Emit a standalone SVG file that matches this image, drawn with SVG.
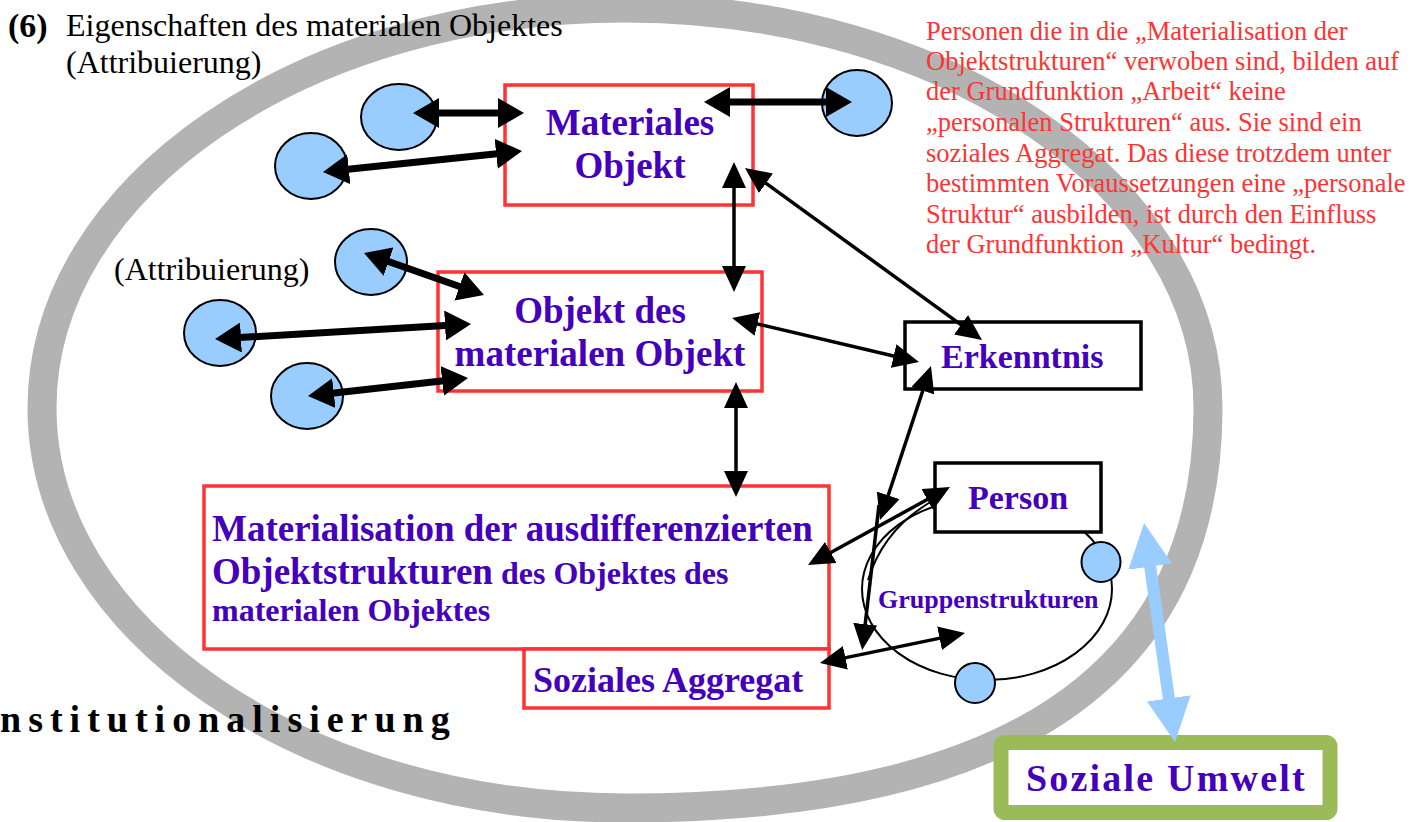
<svg xmlns="http://www.w3.org/2000/svg" width="1414" height="822" viewBox="0 0 1414 822">
<defs>
<style>
.serif{font-family:"Liberation Serif","Times New Roman",serif}
.pb{font-family:"Liberation Serif","Times New Roman",serif;font-weight:bold;fill:#4400bb}
.red{font-family:"Liberation Serif","Times New Roman",serif;fill:#ff3333;font-size:26.5px}
.rbox{fill:#fff;stroke:#ff3333;stroke-width:3.5}
.kbox{fill:#fff;stroke:#000;stroke-width:3.5}
.dot{fill:#99ccff;stroke:#000;stroke-width:2}
.thick{stroke:#000;stroke-width:7;fill:none;marker-start:url(#hk);marker-end:url(#hk)}
.thin{stroke:#000;stroke-width:3.5;fill:none;marker-start:url(#hn);marker-end:url(#hn)}
</style>
<marker id="hk" markerUnits="userSpaceOnUse" markerWidth="26" markerHeight="30" refX="13" refY="15" orient="auto-start-reverse" viewBox="0 0 26 30"><path d="M0,0 L26,15 L0,30 z" fill="#000"/></marker>
<marker id="hn" markerUnits="userSpaceOnUse" markerWidth="26" markerHeight="24" refX="13" refY="12" orient="auto-start-reverse" viewBox="0 0 26 24"><path d="M0,0 L26,12 L0,24 z" fill="#000"/></marker>
<marker id="hb" markerUnits="userSpaceOnUse" markerWidth="44" markerHeight="44" refX="22" refY="22" orient="auto-start-reverse" viewBox="0 0 44 44"><path d="M0,0 L44,22 L0,44 z" fill="#99ccff"/></marker>
</defs>
<rect width="1414" height="822" fill="#fff"/>

<g id="institution">
<path d="M1208,408 C1208,682 1000,808 625,808 C303,808 42,629 42,408 C42,187 303,8 625,8 C947,8 1208,187 1208,408 Z" fill="none" stroke="#b3b3b3" stroke-width="29"/>
<text x="0" y="732" class="serif" font-weight="bold" font-size="38" letter-spacing="7" fill="#000">nstitutionalisierung</text>
</g>

<g id="title">
<text x="8" y="37" class="serif" font-weight="bold" font-size="34" fill="#000">(6)</text>
<text x="66" y="36" class="serif" font-size="32" fill="#000">Eigenschaften des materialen Objektes</text>
<text x="66" y="73" class="serif" font-size="32" fill="#000">(Attribuierung)</text>
</g>

<g id="note">
<text class="red" x="926" y="40">Personen die in die „Materialisation der</text>
<text class="red" x="926" y="70">Objektstrukturen“ verwoben sind, bilden auf</text>
<text class="red" x="926" y="100">der Grundfunktion „Arbeit“ keine</text>
<text class="red" x="926" y="131">„personalen Strukturen“ aus. Sie sind ein</text>
<text class="red" x="926" y="162">soziales Aggregat. Das diese trotzdem unter</text>
<text class="red" x="926" y="192">bestimmten Voraussetzungen eine „personale</text>
<text class="red" x="926" y="223">Struktur“ ausbilden, ist durch den Einfluss</text>
<text class="red" x="926" y="253">der Grundfunktion „Kultur“ bedingt.</text>
</g>

<g id="attr-label">
<text x="114" y="280" class="serif" font-size="32" fill="#000">(Attribuierung)</text>
</g>

<g id="gruppenstrukturen">
<ellipse cx="987" cy="589" rx="125" ry="91" fill="none" stroke="#000" stroke-width="2"/>
<path d="M934,500 Q884,528 868,580" fill="none" stroke="#000" stroke-width="2"/>
<text x="878" y="608" class="pb" font-size="26">Gruppenstrukturen</text>
</g>

<g id="materiales-objekt">
<rect class="rbox" x="505" y="85" width="248" height="120"/>
<text class="pb" font-size="37" text-anchor="middle" x="630" y="135">Materiales</text>
<text class="pb" font-size="37" text-anchor="middle" x="630" y="178">Objekt</text>
</g>

<g id="objekt-des">
<rect class="rbox" x="438" y="272" width="324" height="119"/>
<text class="pb" font-size="37" text-anchor="middle" x="600" y="323">Objekt des</text>
<text class="pb" font-size="37" text-anchor="middle" x="600" y="366">materialen Objekt</text>
</g>

<g id="erkenntnis">
<rect class="kbox" x="905" y="322" width="236" height="67"/>
<text class="pb" font-size="34" x="941" y="368">Erkenntnis</text>
</g>

<g id="person">
<rect class="kbox" x="935" y="463" width="166" height="69"/>
<text class="pb" font-size="34" text-anchor="middle" x="1018" y="509">Person</text>
</g>

<g id="materialisation">
<rect class="rbox" x="204" y="486" width="625" height="163"/>
<text class="pb" font-size="37" x="212" y="541">Materialisation der ausdifferenzierten</text>
<text class="pb" x="212" y="584"><tspan font-size="37">Objektstrukturen</tspan><tspan font-size="32"> des Objektes des</tspan></text>
<text class="pb" font-size="32" x="212" y="621">materialen Objektes</text>
</g>

<g id="soziales-aggregat">
<rect class="rbox" x="524" y="649" width="305" height="59"/>
<text class="pb" font-size="36" x="533" y="692">Soziales Aggregat</text>
</g>

<g id="soziale-umwelt">
<rect x="1001" y="742.5" width="329" height="70" rx="4" fill="#fff" stroke="#9bbb59" stroke-width="15"/>
<text class="pb" font-size="38" letter-spacing="2.2" x="1026" y="791">Soziale Umwelt</text>
</g>

<g id="attribute-circles">
<ellipse class="dot" cx="399" cy="117" rx="38" ry="33"/>
<ellipse class="dot" cx="311" cy="166" rx="36" ry="33"/>
<ellipse class="dot" cx="857" cy="103" rx="35" ry="33"/>
<ellipse class="dot" cx="371" cy="262" rx="36" ry="33"/>
<ellipse class="dot" cx="220" cy="333" rx="36" ry="33"/>
<ellipse class="dot" cx="307" cy="396" rx="36" ry="33"/>
<ellipse class="dot" cx="1101" cy="562" rx="19.5" ry="20"/>
<ellipse class="dot" cx="975" cy="683" rx="20" ry="20"/>
</g>

<g id="connectors">
<line class="thick" x1="426" y1="113" x2="511" y2="113"/>
<line class="thick" x1="335.9" y1="170.6" x2="509.1" y2="152.4"/>
<line class="thick" x1="717" y1="102" x2="839" y2="102"/>
<line class="thick" x1="376.3" y1="257.3" x2="471.7" y2="290.7"/>
<line class="thick" x1="228" y1="338.2" x2="458" y2="324.8"/>
<line class="thick" x1="320.9" y1="394.5" x2="455.1" y2="379.5"/>
<line class="thin" x1="734" y1="175" x2="734" y2="279"/>
<line class="thin" x1="755.5" y1="175.6" x2="971.5" y2="332.4"/>
<line class="thin" x1="744.7" y1="321" x2="906.3" y2="359"/>
<line class="thin" x1="736" y1="395" x2="736" y2="484"/>
<line class="thin" x1="926.9" y1="378.3" x2="884.1" y2="507.7"/>
<line x1="879" y1="505" x2="863.7" y2="637.1" stroke="#000" stroke-width="3.5" marker-end="url(#hn)"/>
<line class="thin" x1="819.4" y1="558.7" x2="938.6" y2="493.3"/>
<line class="thin" stroke-width="4" x1="832.7" y1="660.4" x2="952.3" y2="635.6"/>
<line x1="1147.1" y1="544.8" x2="1171.9" y2="720.2" stroke="#99ccff" stroke-width="12" marker-start="url(#hb)" marker-end="url(#hb)"/>
</g>
</svg>
